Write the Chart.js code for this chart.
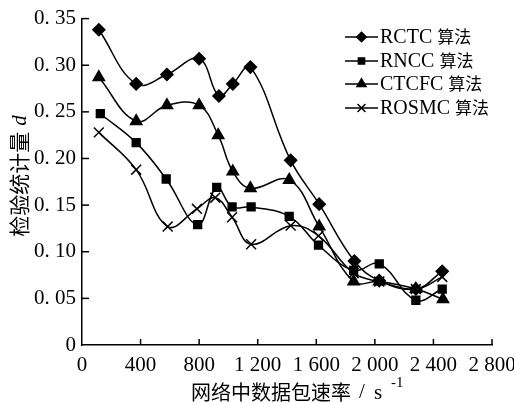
<!DOCTYPE html>
<html><head><meta charset="utf-8">
<script src="https://cdn.jsdelivr.net/npm/chart.js@4"></script>
<style>html,body{margin:0;padding:0;background:#fff}#w{width:514px;height:403px}</style>
</head><body><div id="w"><canvas id="c" width="514" height="403"></canvas></div>
<script>
const seriesCodes = ['RCTC', 'RNCC', 'CTCFC', 'ROSMC'];
const seriesSuffix = '算法';
const rctcX = [115, 370, 580, 800, 935, 1030, 1150, 1425, 1620, 1860, 2030, 2280, 2460];
const rctcY = [0.338, 0.280, 0.290, 0.307, 0.267, 0.280, 0.298, 0.198, 0.151, 0.090, 0.069, 0.060, 0.079];
const rnccX = [125, 370, 575, 790, 920, 1025, 1155, 1415, 1615, 1855, 2030, 2280, 2460];
const rnccY = [0.248, 0.217, 0.178, 0.129, 0.169, 0.148, 0.148, 0.138, 0.107, 0.080, 0.087, 0.048, 0.060];
const ctcfcX = [115, 370, 580, 800, 930, 1030, 1150, 1415, 1620, 1855, 2030, 2280, 2465];
const ctcfcY = [0.287, 0.240, 0.257, 0.257, 0.225, 0.186, 0.168, 0.177, 0.127, 0.068, 0.068, 0.060, 0.049];
const rosmcX = [115, 370, 585, 785, 910, 1025, 1155, 1425, 1615, 1855, 2030, 2280, 2460];
const rosmcY = [0.228, 0.188, 0.127, 0.146, 0.158, 0.137, 0.108, 0.128, 0.117, 0.077, 0.068, 0.060, 0.073];
const xTickValues = [0, 400, 800, 1200, 1600, 2000, 2400, 2800];
const xTickLabels = ['0', '400', '800', '1 200', '1 600', '2 000', '2 400', '2 800'];
const yTickLabels = ['0', '0. 05', '0. 10', '0. 15', '0. 20', '0. 25', '0. 30', '0. 35'];
const xTitle = '网络中数据包速率';
const yTitle = '检验统计量';

const pts = (xs, ys) => xs.map((x, i) => ({x, y: ys[i]}));
const styles = [
  {pointStyle: 'rectRot', pointRadius: 6},
  {pointStyle: 'rect', pointRadius: 5.5},
  {pointStyle: 'triangle', pointRadius: 6.5},
  {pointStyle: 'crossRot', pointRadius: 7}
];
const dataArr = [pts(rctcX, rctcY), pts(rnccX, rnccY), pts(ctcfcX, ctcfcY), pts(rosmcX, rosmcY)];
const datasets = dataArr.map((d, i) => Object.assign({
  label: seriesCodes[i] + ' ' + seriesSuffix, data: d, borderColor: '#000', backgroundColor: '#000',
  borderWidth: 1.5, pointBorderWidth: 1.5, pointBackgroundColor: '#000', pointBorderColor: '#000',
  tension: 0.4, fill: false
}, styles[i]));

const serif = "'Liberation Serif', 'Noto Sans CJK SC', serif";
const cjk = "'Noto Sans CJK SC', sans-serif";

const deco = {
  id: 'deco',
  afterDraw(chart) {
    const ctx = chart.ctx, xs = chart.scales.x, ys = chart.scales.y;
    const a = chart.chartArea;
    ctx.save();
    ctx.strokeStyle = '#000'; ctx.lineWidth = 1.5;
    xTickValues.forEach(v => {
      const px = xs.getPixelForValue(v);
      if (v === 0) return;
      ctx.beginPath(); ctx.moveTo(px, a.bottom); ctx.lineTo(px, a.bottom - 6); ctx.stroke();
    });
    for (let k = 1; k <= 7; k++) {
      const py = ys.getPixelForValue(k * 0.05);
      ctx.beginPath(); ctx.moveTo(a.left, py); ctx.lineTo(a.left + 7, py); ctx.stroke();
    }
    // legend
    const ly = [37, 61, 84, 108];
    chart.data.datasets.forEach((ds, i) => {
      const y = ly[i];
      ctx.lineWidth = 1.5; ctx.strokeStyle = '#000';
      ctx.beginPath(); ctx.moveTo(345, y); ctx.lineTo(378, y); ctx.stroke();
      Chart.helpers.drawPoint(ctx, {pointStyle: ds.pointStyle, radius: ds.pointRadius * 0.8, borderWidth: 1.5, rotation: 0}, 361.5, y);
      ctx.fillStyle = '#000';
      ctx.textBaseline = 'middle'; ctx.textAlign = 'left';
      ctx.font = "20px " + serif;
      const code = seriesCodes[i];
      ctx.fillText(code, 380, y + 1);
      const cw = ctx.measureText(code + ' ').width;
      ctx.font = "17px " + cjk;
      ctx.fillText(seriesSuffix, 380 + cw, y);
    });
    // x title
    ctx.fillStyle = '#000';
    ctx.textBaseline = 'middle'; ctx.textAlign = 'left';
    ctx.font = "20px " + cjk;
    ctx.fillText(xTitle, 191, 392);
    ctx.font = "21px " + serif;
    ctx.fillText('/', 359, 392);
    ctx.fillText('s', 374, 393);
    ctx.font = "15px " + serif;
    ctx.fillText('-1', 391, 383);
    // y title
    ctx.translate(19, 176);
    ctx.rotate(-Math.PI / 2);
    ctx.font = "21px " + cjk;
    const tw = ctx.measureText(yTitle).width + 6;
    ctx.font = "italic 21px " + serif;
    const dw = ctx.measureText('d').width;
    const sx = -(tw + dw) / 2;
    ctx.font = "21px " + cjk;
    ctx.textAlign = 'left';
    ctx.fillText(yTitle, sx, 0);
    ctx.font = "italic 21px " + serif;
    ctx.fillText('d', sx + tw, 1);
    ctx.restore();
  }
};

new Chart(document.getElementById('c'), {
  type: 'line',
  data: {datasets},
  options: {
    responsive: false, animation: false, devicePixelRatio: 1,
    layout: {padding: {left: 0, top: 17, right: 0, bottom: 0}},
    plugins: {legend: {display: false}, tooltip: {enabled: false}},
    scales: {
      x: {
        type: 'linear', min: 0, max: 2800,
        afterBuildTicks: s => { s.ticks = xTickValues.map(v => ({value: v})); },
        afterFit: s => { s.height = 58; s.paddingRight = 22; },
        grid: {display: false, drawTicks: false},
        border: {display: true, color: '#000', width: 1.5},
        ticks: {color: '#000', padding: 8, maxRotation: 0, autoSkip: false,
          font: {family: serif, size: 21},
          callback: (v) => xTickLabels[xTickValues.indexOf(v)]}
      },
      y: {
        min: 0, max: 0.35,
        afterBuildTicks: s => { s.ticks = yTickLabels.map((t, i) => ({value: i * 0.05})); },
        afterFit: s => { s.width = 82; },
        grid: {display: false, drawTicks: false},
        border: {display: true, color: '#000', width: 1.5},
        ticks: {color: '#000', padding: 6, autoSkip: false,
          font: {family: serif, size: 21},
          callback: (v, i) => yTickLabels[i]}
      }
    }
  },
  plugins: [deco]
});
</script>
</body></html>
